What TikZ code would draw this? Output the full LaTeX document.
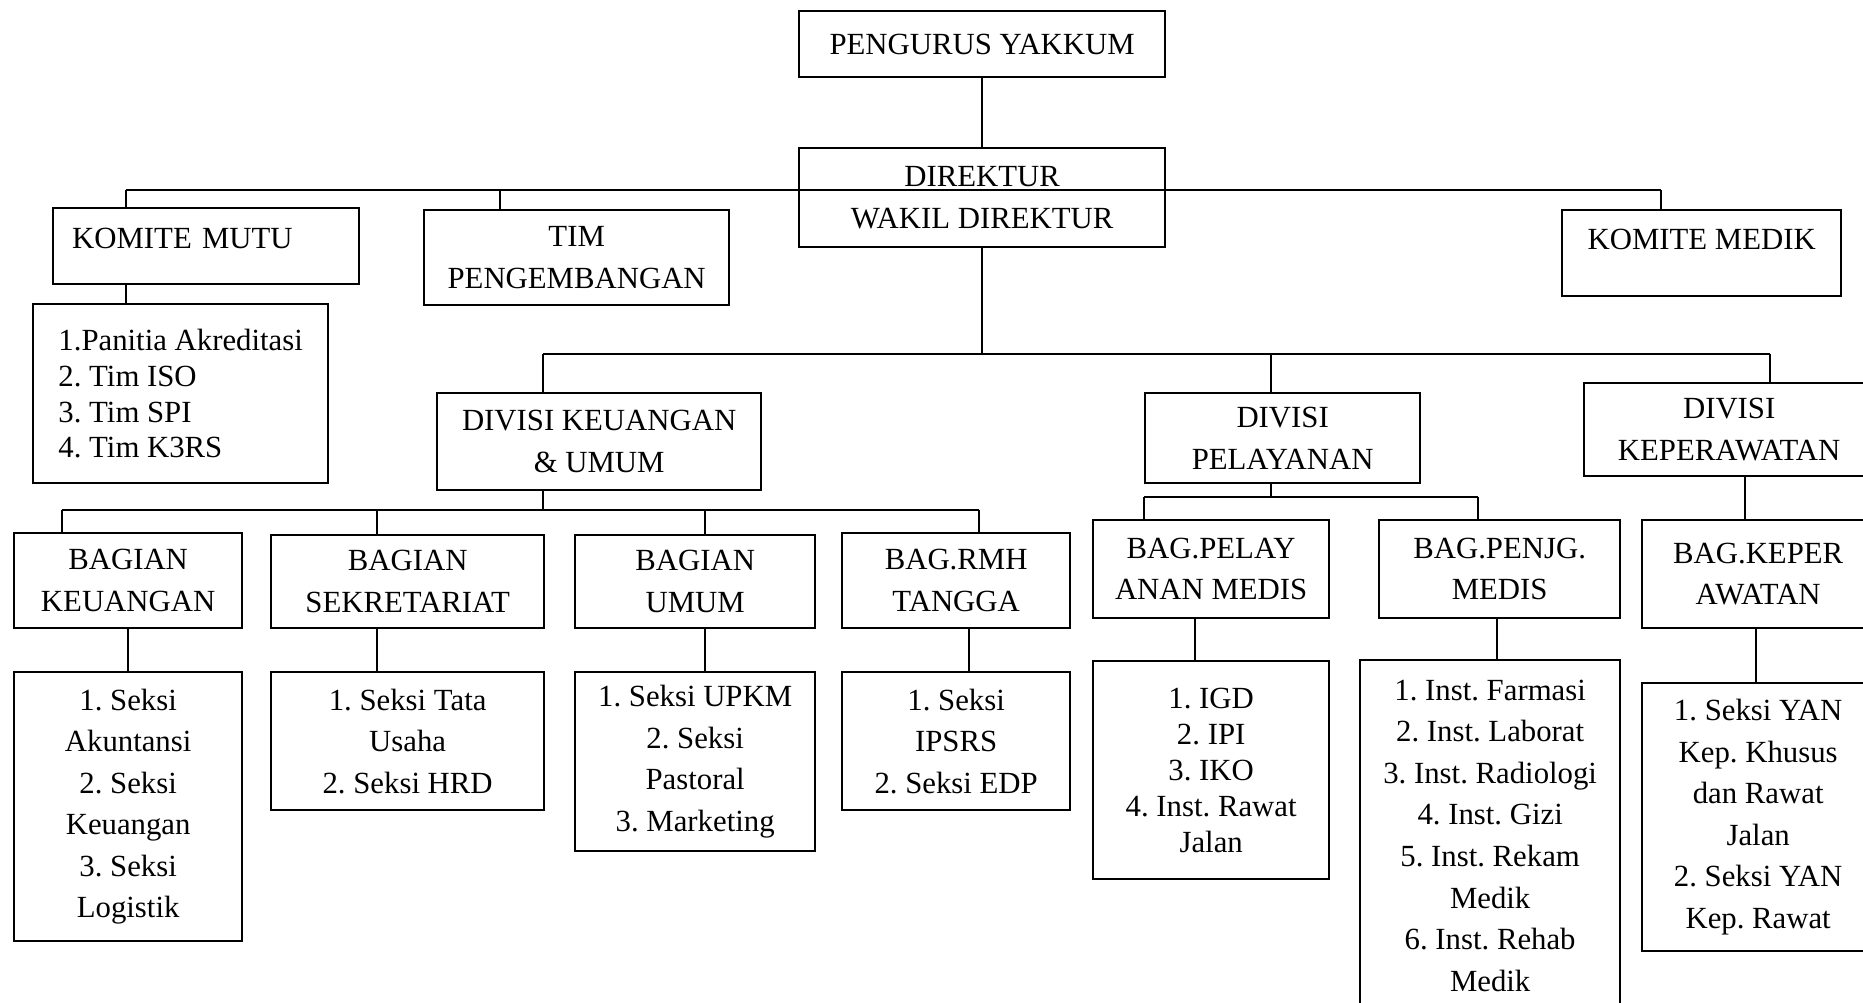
\documentclass[tikz,border=0pt]{standalone}
\usepackage{fontspec}
\setmainfont{Liberation Serif}
\usepackage{tikz}

\begin{document}
\begin{tikzpicture}[x=0.39pt, y=-0.39pt,
    unit/.style={draw, line width=0.9pt, align=center, inner sep=0pt,
        font=\fontsize{12}{16.2}\selectfont\frenchspacing, anchor=north west},
    boxsize/.style 2 args={minimum width=#1*0.39pt, minimum height=#2*0.39pt},
    link/.style={line width=0.7pt}]
    \useasboundingbox (0,0) rectangle (1863,1002);

    % Pengurus and direktur
    \node[unit, boxsize={366}{66}] (pengurus) at (798,10) {PENGURUS YAKKUM};
    \node[unit, boxsize={366}{99}] (direktur) at (798,147) {DIREKTUR\\WAKIL DIREKTUR};

    % Staff units
    \node[unit, boxsize={306}{76}, text width=104.5pt, align=left, text depth=6pt] (kmutu) at (52,207) {KOMITE MUTU};
    \node[unit, boxsize={305}{95}] (timpeng) at (423,209) {TIM\\PENGEMBANGAN};
    \node[unit, boxsize={279}{86}, text depth=11pt] (kmedik) at (1561,209) {KOMITE MEDIK};
    \node[unit, boxsize={295}{179}, align=left, font=\fontsize{12}{14}\selectfont\frenchspacing] (panitia) at (32,303)
        {1.Panitia Akreditasi\\2. Tim ISO\\3. Tim SPI\\4. Tim K3RS};

    % Divisi
    \node[unit, boxsize={324}{97}] (divku) at (436,392) {DIVISI KEUANGAN\\\& UMUM};
    \node[unit, boxsize={275}{90}] (divpel) at (1144,392) {DIVISI\\PELAYANAN};
    \node[unit, boxsize={290}{93}] (divkep) at (1583,382) {DIVISI\\KEPERAWATAN};

    % Bagian
    \node[unit, boxsize={228}{95}] (bku) at (13,532) {BAGIAN\\KEUANGAN};
    \node[unit, boxsize={273}{93}] (bsek) at (270,534) {BAGIAN\\SEKRETARIAT};
    \node[unit, boxsize={240}{93}] (bumum) at (574,534) {BAGIAN\\UMUM};
    \node[unit, boxsize={228}{95}] (brmh) at (841,532) {BAG.RMH\\TANGGA};
    \node[unit, boxsize={236}{98}] (bpel) at (1092,519) {BAG.PELAY\\ANAN MEDIS};
    \node[unit, boxsize={241}{98}] (bpen) at (1378,519) {BAG.PENJG.\\MEDIS};
    \node[unit, boxsize={232}{108}] (bkep) at (1641,519) {BAG.KEPER\\AWATAN};

    % Seksi and instalasi
    \node[unit, boxsize={228}{269}] (sku) at (13,671)
        {1. Seksi\\Akuntansi\\2. Seksi\\Keuangan\\3. Seksi\\Logistik};
    \node[unit, boxsize={273}{138}] (ssek) at (270,671) {1. Seksi Tata\\Usaha\\2. Seksi HRD};
    \node[unit, boxsize={240}{179}] (sumum) at (574,671)
        {1. Seksi UPKM\\2. Seksi\\Pastoral\\3. Marketing};
    \node[unit, boxsize={228}{138}] (srmh) at (841,671) {1. Seksi\\IPSRS\\2. Seksi EDP};
    \node[unit, boxsize={236}{218}, font=\fontsize{12}{14}\selectfont\frenchspacing] (spel) at (1092,660)
        {1. IGD\\2. IPI\\3. IKO\\4. Inst. Rawat\\Jalan};
    \node[unit, boxsize={260}{351}] (spen) at (1359,659)
        {1. Inst. Farmasi\\2. Inst. Laborat\\3. Inst. Radiologi\\4. Inst. Gizi\\5. Inst. Rekam\\Medik\\6. Inst. Rehab\\Medik};
    \node[unit, boxsize={232}{268}] (skep) at (1641,682)
        {1. Seksi YAN\\Kep. Khusus\\dan Rawat\\Jalan\\2. Seksi YAN\\Kep. Rawat};

    % Lines: top and staff
    \coordinate (s1) at (126,190);
    \coordinate (s2) at (500,190);
    \coordinate (s3) at (1661,190);
    \draw[link] (pengurus) -- (direktur);
    \draw[link] (s1) -- (s3);
    \draw[link] (s1) -- (s1 |- kmutu.north);
    \draw[link] (s2) -- (s2 |- timpeng.north);
    \draw[link] (s3) -- (s3 |- kmedik.north);
    \draw[link] (s1 |- kmutu.south) -- (s1 |- panitia.north);

    % Lines: divisi
    \coordinate (d1) at (543,354);
    \coordinate (d2) at (1271,354);
    \coordinate (d3) at (1770,354);
    \draw[link] (direktur.south) -- (direktur.south |- d1);
    \draw[link] (d1) -- (d3);
    \draw[link] (d1) -- (d1 |- divku.north);
    \draw[link] (d2) -- (d2 |- divpel.north);
    \draw[link] (d3) -- (d3 |- divkep.north);

    % Lines: keuangan & umum
    \coordinate (b1) at (62,510);
    \coordinate (b2) at (377,510);
    \coordinate (b3) at (705,510);
    \coordinate (b4) at (979,510);
    \coordinate (r4) at (969,650);
    \draw[link] (d1 |- divku.south) -- (d1 |- b1);
    \draw[link] (b1) -- (b4);
    \draw[link] (b1) -- (b1 |- bku.north);
    \draw[link] (b2) -- (b2 |- bsek.north);
    \draw[link] (b3) -- (b3 |- bumum.north);
    \draw[link] (b4) -- (b4 |- brmh.north);
    \draw[link] (bku.south) -- (sku.north);
    \draw[link] (b2 |- bsek.south) -- (b2 |- ssek.north);
    \draw[link] (b3 |- bumum.south) -- (b3 |- sumum.north);
    \draw[link] (r4 |- brmh.south) -- (r4 |- srmh.north);

    % Lines: pelayanan
    \coordinate (p1) at (1144,497);
    \coordinate (p2) at (1478,497);
    \coordinate (q1) at (1195,640);
    \coordinate (q2) at (1497,640);
    \draw[link] (d2 |- divpel.south) -- (d2 |- p1);
    \draw[link] (p1) -- (p2);
    \draw[link] (p1) -- (p1 |- bpel.north);
    \draw[link] (p2) -- (p2 |- bpen.north);
    \draw[link] (q1 |- bpel.south) -- (q1 |- spel.north);
    \draw[link] (q2 |- bpen.south) -- (q2 |- spen.north);

    % Lines: keperawatan
    \coordinate (k1) at (1745,500);
    \coordinate (k2) at (1756,650);
    \draw[link] (k1 |- divkep.south) -- (k1 |- bkep.north);
    \draw[link] (k2 |- bkep.south) -- (k2 |- skep.north);
\end{tikzpicture}
\end{document}
